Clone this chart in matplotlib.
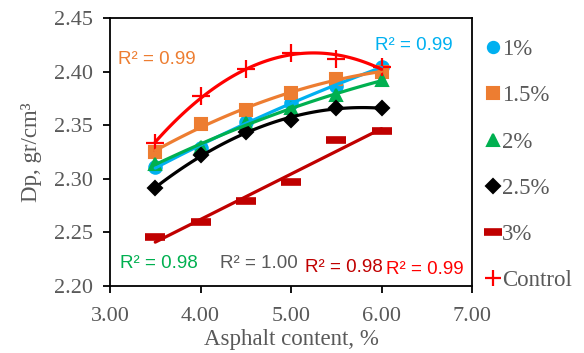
import numpy as np
import matplotlib
matplotlib.use("Agg")
import matplotlib.pyplot as plt
from matplotlib.lines import Line2D

# asphalt content, % and Dp values
asphalt = [3.5, 4.0, 4.5, 5.0, 5.5, 6.0]
dp_1 = [2.311, 2.329, 2.353, 2.371, 2.387, 2.404]
dp_15 = [2.325, 2.351, 2.364, 2.380, 2.393, 2.400]
dp_2 = [2.314, 2.330, 2.352, 2.366, 2.378, 2.392]
dp_25 = [2.291, 2.322, 2.344, 2.355, 2.366, 2.366]
dp_3 = [2.246, 2.260, 2.279, 2.297, 2.336, 2.345]
dp_ctrl = [2.333, 2.377, 2.402, 2.417, 2.412, 2.404]

labels = ["1%", "1.5%", "2%", "2.5%", "3%", "Control"]
r2_text = ["0.99", "0.99", "0.98", "1.00", "0.98", "0.99"]

grey = "#595959"
serif = "Liberation Serif"
sans = "Liberation Sans"

series = [
    # values, colour, marker, marker size, fit order
    (dp_1, "#00B0F0", "o", 9, 2),
    (dp_15, "#ED7D31", "s", 9, 2),
    (dp_2, "#00B050", "^", 9, 2),
    (dp_25, "#000000", "D", 7.5, 2),
    (dp_3, "#C00000", "_", 14, 1),
    (dp_ctrl, "#FF0000", "+", 13, 2),
]

fig = plt.figure(figsize=(5.84, 3.53), dpi=100)
ax = fig.add_axes([110 / 584, 67 / 353, 362 / 584, 268 / 353])

xs = np.linspace(asphalt[0], asphalt[-1], 100)
handles = []
for (vals, col, mk, ms, order), lab in zip(series, labels):
    mew = 1.5
    if mk == "_":
        mew = 5.5
    elif mk == "+":
        mew = 1.6
    ax.plot(asphalt, vals, ls="none", marker=mk, ms=ms, color=col, mew=mew, zorder=3)
    fit = np.polyfit(asphalt, vals, order)
    ax.plot(xs, np.polyval(fit, xs), color=col, lw=2.3, zorder=4,
            solid_capstyle="round")
    handles.append(Line2D([], [], ls="none", marker=mk, ms=ms * 0.9, color=col, mew=mew))

ax.set_xlim(3, 7)
ax.set_ylim(2.20, 2.45)
ax.set_xticks([3, 4, 5, 6, 7])
ax.set_yticks([2.20, 2.25, 2.30, 2.35, 2.40, 2.45])
ax.xaxis.set_major_formatter(matplotlib.ticker.FormatStrFormatter("%.2f"))
ax.yaxis.set_major_formatter(matplotlib.ticker.FormatStrFormatter("%.2f"))
ax.tick_params(direction="out", length=5, width=1.3, labelsize=16, labelcolor=grey)
ax.tick_params(axis="y", pad=7)
ax.tick_params(axis="x", pad=10)
for lab in ax.get_xticklabels() + ax.get_yticklabels():
    lab.set_fontfamily(serif)
for sp in ax.spines.values():
    sp.set_linewidth(1.3)

ax.set_xlabel("Asphalt content, %", fontsize=16.5, color=grey, family=serif, labelpad=2)
ax.set_ylabel("Dp, gr/cm³", fontsize=16.5, color=grey, family=serif, labelpad=9)

# R² labels
cols = [s[1] for s in series]
cols[3] = grey
pos = [(375, 46), (118, 60), (120, 264), (220, 264), (305, 268), (386, 269)]
for (px, py), c, r in zip(pos, cols, r2_text):
    fig.text(px / 584, 1 - py / 353, "R² = " + r, color=c, fontsize=13.5,
             family=sans, va="center", ha="left")

fig.legend(handles, labels, loc="upper left", bbox_to_anchor=(477 / 584, 1 - 30 / 353),
           frameon=False, handlelength=0.6, handletextpad=0.1, labelspacing=1.1,
           prop={"family": serif, "size": 16.5}, labelcolor=grey, borderaxespad=0)

fig.savefig("out.png", dpi=100)
